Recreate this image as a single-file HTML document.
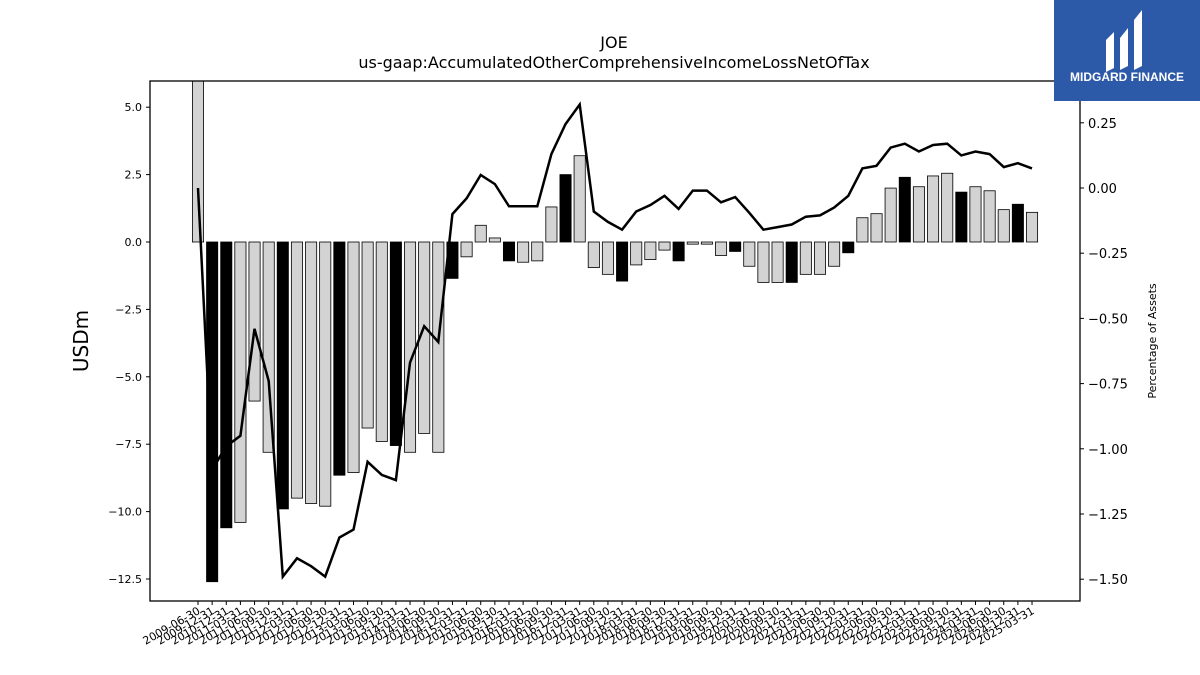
<!DOCTYPE html>
<html><head><meta charset="utf-8">
<style>
body{margin:0;background:#fff;font-family:"DejaVu Sans","Liberation Sans",sans-serif;}
#wrap{position:relative;width:1200px;height:675px;overflow:hidden;}
#logo{position:absolute;left:1054px;top:0;width:146px;height:101px;background:#2d59a9;color:#fff;}
</style></head>
<body>
<div id="wrap">
<svg id="chart" width="1200" height="675"></svg>
<div id="logo">
  <svg width="146" height="101">
    <path d="M52 40 L60 32 L60 68 L52 72 Z" fill="#fff"/>
    <path d="M66 38 L74 28 L74 66 L66 70 Z" fill="#fff"/>
    <path d="M80 20 L88 10 L88 66 L80 70 Z" fill="#fff"/>
    <text x="73" y="81" text-anchor="middle" font-size="12" font-weight="bold" fill="#fff" font-family="Liberation Sans, sans-serif">MIDGARD FINANCE</text>
  </svg>
</div>
</div>
<script>
const labels = (function(){const a=["2009-06-30","2009-12-31","2010-12-31"];const q=["03-31","06-30","09-30","12-31"];for(let y=2011;y<=2025;y++){for(const d of q){a.push(y+"-"+d);if(y===2025)break;}}return a;})();
const barValues = [7.0,-12.6,-10.6,-10.4,-5.9,-7.8,-9.9,-9.5,-9.7,-9.8,-8.65,-8.55,-6.9,-7.4,-7.55,-7.8,-7.1,-7.8,-1.35,-0.55,0.62,0.15,-0.7,-0.75,-0.7,1.3,2.5,3.2,-0.95,-1.2,-1.45,-0.85,-0.65,-0.3,-0.7,-0.08,-0.08,-0.5,-0.35,-0.9,-1.5,-1.5,-1.5,-1.2,-1.2,-0.9,-0.4,0.9,1.05,2.0,2.4,2.05,2.45,2.55,1.85,2.05,1.9,1.2,1.4,1.1];
const pctValues = [0.0,-1.08,-0.99,-0.95,-0.54,-0.74,-1.49,-1.42,-1.45,-1.49,-1.34,-1.31,-1.05,-1.10,-1.12,-0.67,-0.53,-0.59,-0.10,-0.04,0.05,0.015,-0.07,-0.07,-0.07,0.13,0.245,0.32,-0.09,-0.13,-0.16,-0.09,-0.065,-0.03,-0.08,-0.01,-0.01,-0.055,-0.035,-0.095,-0.16,-0.15,-0.14,-0.11,-0.105,-0.075,-0.03,0.075,0.085,0.155,0.17,0.14,0.165,0.17,0.125,0.14,0.13,0.08,0.095,0.075];
const leftTicks = [5.0,2.5,0.0,-2.5,-5.0,-7.5,-10.0,-12.5];
const rightTicks = [0.25,0.00,-0.25,-0.50,-0.75,-1.00,-1.25,-1.50];

const NS="http://www.w3.org/2000/svg";
const svg=document.getElementById('chart');
const L=150,R=1080,T=81,B=601;
const yL=v=>242-v*26.96;
const yR=v=>188-v*260.8;
const xI=i=>198+i*14.136;
function mk(tag,attrs,parent){const e=document.createElementNS(NS,tag);for(const k in attrs)e.setAttribute(k,attrs[k]);(parent||svg).appendChild(e);return e;}
const fmt=v=>(v<0?"\u2212":"")+Math.abs(v).toFixed(v%1===0&&Math.abs(v)>=1&&String(v).length<4?1:(Math.abs(v)<2&&String(v).includes('.')&&String(Math.abs(v)).length>3?2:1));

const clip=mk('clipPath',{id:'pc'});mk('rect',{x:L,y:T,width:R-L,height:B-T},clip);
const gBars=mk('g',{'clip-path':'url(#pc)'});


barValues.forEach((v,i)=>{
  const y0=yL(0),y1=yL(v);
  const r=mk('rect',{x:xI(i)-5.6,y:Math.min(y0,y1),width:11.2,height:Math.abs(y1-y0),fill:(i%4===2||i===1)?'#000':'#d3d3d3',stroke:'#000','stroke-width':0.8},gBars);
  
  
});
let d="";pctValues.forEach((v,i)=>{d+=(i?"L":"M")+xI(i).toFixed(1)+" "+yR(v).toFixed(1);});
const line=mk('path',{d:d,fill:'none',stroke:'#000','stroke-width':2.5,'clip-path':'url(#pc)'});



const frame=mk('rect',{x:L,y:T,width:R-L,height:B-T,fill:'none',stroke:'#000','stroke-width':1.3});



leftTicks.forEach(v=>{const y=yL(v);mk('line',{x1:L-4,x2:L,y1:y,y2:y,stroke:'#000'});
  const t=mk('text',{x:L-8,y:y+4,'text-anchor':'end','font-size':11});t.textContent=(v<0?"\u2212":"")+Math.abs(v).toFixed(1);
  });
rightTicks.forEach(v=>{const y=yR(v);mk('line',{x1:R,x2:R+4,y1:y,y2:y,stroke:'#000'});
  const t=mk('text',{x:R+8,y:y+5,'font-size':13});t.textContent=(v<0?"\u2212":"")+Math.abs(v).toFixed(2);
  });
labels.forEach((s,i)=>{const x=xI(i);mk('line',{x1:x,x2:x,y1:B,y2:B+4,stroke:'#000'});
  const t=mk('text',{x:x+3,y:B+12,'text-anchor':'end','font-size':11,transform:`rotate(-30 ${x+3} ${B+12})`});t.textContent=s;
  });

let t=mk('text',{x:614,y:48,'text-anchor':'middle','font-size':16});t.textContent="JOE";

t=mk('text',{x:614,y:68,'text-anchor':'middle','font-size':16});t.textContent="us-gaap:AccumulatedOtherComprehensiveIncomeLossNetOfTax";

t=mk('text',{x:88,y:341,'text-anchor':'middle','font-size':20,transform:'rotate(-90 88 341)'});t.textContent="USDm";

t=mk('text',{x:1156,y:341,'text-anchor':'middle','font-size':11,transform:'rotate(-90 1156 341)'});t.textContent="Percentage of Assets";

</script>
</body></html>
